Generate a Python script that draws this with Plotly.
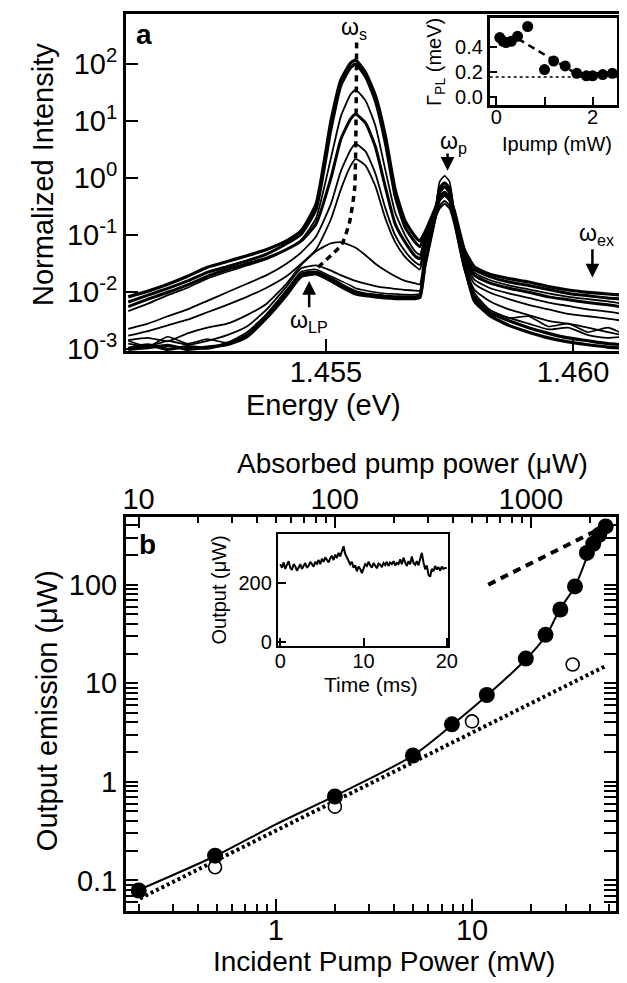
import numpy as np
import plotly.graph_objects as go

# ---------------- Panel a : spectra (log10 of normalized intensity) ----------------
energy_eV = [1.4510, 1.4514, 1.4518, 1.4522, 1.4526, 1.4530, 1.4534, 1.4538, 1.4542, 1.4545,
             1.4548, 1.4551, 1.4553, 1.4555, 1.4556, 1.4558, 1.4560, 1.4562, 1.4564, 1.4566,
             1.4568, 1.4569, 1.4570, 1.4572, 1.4573, 1.4574, 1.4575, 1.4576, 1.4578, 1.4580,
             1.4583, 1.4587, 1.4591, 1.4595, 1.4599, 1.4603, 1.4607, 1.4610]

spec1_log10 = [-2.08, -1.98, -1.86, -1.72, -1.56, -1.46, -1.36, -1.25, -1.10, -0.92, -0.45, 1.00, 1.72, 2.02, 2.07, 1.85,
               1.45, 0.75, -0.20, -0.75, -1.02, -1.10, -0.95, -0.55, -0.33, -0.25, -0.33, -0.58, -1.25, -1.55,
               -1.68, -1.76, -1.82, -1.90, -1.96, -2.00, -2.03, -2.05]
spec2_log10 = [-2.17, -2.05, -1.93, -1.80, -1.65, -1.55, -1.45, -1.33, -1.15, -0.98, -0.55, 0.85, 1.62, 1.94, 2.00, 1.78,
               1.35, 0.62, -0.32, -0.86, -1.12, -1.20, -1.00, -0.58, -0.35, -0.27, -0.35, -0.62, -1.30, -1.60,
               -1.72, -1.82, -1.88, -1.95, -2.02, -2.06, -2.10, -2.12]
spec3_log10 = [-2.33, -2.20, -2.05, -1.92, -1.76, -1.64, -1.53, -1.42, -1.25, -1.08, -0.70, 0.35, 1.08, 1.47, 1.55, 1.36,
               0.92, 0.15, -0.60, -1.00, -1.28, -1.34, -1.05, -0.60, -0.36, -0.28, -0.36, -0.64, -1.35, -1.65,
               -1.78, -1.88, -1.95, -2.02, -2.08, -2.12, -2.16, -2.20]
spec4_log10 = [-2.25, -2.12, -2.00, -1.87, -1.72, -1.60, -1.50, -1.40, -1.25, -1.10, -0.80, 0.00, 0.68, 1.04, 1.12, 0.97,
               0.55, -0.15, -0.80, -1.12, -1.36, -1.41, -1.10, -0.62, -0.38, -0.30, -0.38, -0.67, -1.40, -1.70,
               -1.83, -1.93, -2.00, -2.08, -2.13, -2.18, -2.22, -2.26]
spec5_log10 = [-2.64, -2.55, -2.42, -2.30, -2.15, -2.00, -1.85, -1.70, -1.50, -1.30, -1.02, -0.45, 0.12, 0.50, 0.60, 0.47,
               0.08, -0.52, -1.00, -1.28, -1.47, -1.52, -1.15, -0.65, -0.38, -0.30, -0.38, -0.70, -1.45, -1.78,
               -1.92, -2.02, -2.10, -2.18, -2.24, -2.30, -2.34, -2.38]
spec6_log10 = [-2.76, -2.68, -2.58, -2.48, -2.35, -2.22, -2.08, -1.92, -1.72, -1.50, -1.25, -0.72, -0.20, 0.22, 0.34, 0.22,
               -0.14, -0.70, -1.12, -1.38, -1.54, -1.60, -1.20, -0.68, -0.39, -0.30, -0.39, -0.72, -1.50, -1.85,
               -2.00, -2.12, -2.22, -2.30, -2.38, -2.42, -2.46, -2.50]
spec7_log10 = [-2.84, -2.80, -2.86, -2.72, -2.62, -2.55, -2.40, -2.20, -1.85, -1.52, -1.28, -1.14, -1.12, -1.18, -1.22, -1.35,
               -1.50, -1.62, -1.72, -1.80, -1.84, -1.86, -1.30, -0.72, -0.48, -0.40, -0.48, -0.77, -1.55, -1.95,
               -2.15, -2.30, -2.40, -2.50, -2.55, -2.62, -2.70, -2.75]
spec8_log10 = [-2.90, -2.95, -2.85, -2.92, -2.85, -2.75, -2.60, -2.30, -1.90, -1.58, -1.53, -1.62, -1.70, -1.77, -1.80, -1.85,
               -1.89, -1.92, -1.94, -1.96, -1.97, -1.97, -1.45, -0.75, -0.53, -0.45, -0.53, -0.82, -1.60, -2.05,
               -2.30, -2.45, -2.55, -2.65, -2.62, -2.75, -2.80, -2.78]
spec9_log10 = [-2.98, -2.92, -3.00, -2.95, -2.98, -2.90, -2.75, -2.40, -2.00, -1.68, -1.65, -1.76, -1.86, -1.95, -1.99, -2.03,
               -2.05, -2.07, -2.08, -2.08, -2.08, -2.06, -1.50, -0.70, -0.25, -0.15, -0.25, -0.72, -1.55, -2.10,
               -2.35, -2.50, -2.62, -2.72, -2.80, -2.85, -2.90, -2.92]
spec10_log10 = [-3.00, -2.97, -2.93, -3.00, -2.96, -2.92, -2.78, -2.45, -2.05, -1.72, -1.68, -1.80, -1.90, -1.99, -2.03, -2.06,
                -2.08, -2.10, -2.11, -2.11, -2.11, -2.09, -1.55, -0.72, -0.18, -0.08, -0.18, -0.70, -1.50, -2.15,
                -2.40, -2.58, -2.70, -2.80, -2.87, -2.92, -2.96, -2.98]
spec11_log10 = [-2.85, -2.95, -2.78, -2.90, -2.82, -2.88, -2.70, -2.38, -1.96, -1.64, -1.60, -1.72, -1.80, -1.88, -1.93, -1.97,
                -2.00, -2.02, -2.03, -2.04, -2.04, -2.02, -1.50, -0.68, -0.06, 0.04, -0.06, -0.64, -1.48, -2.00,
                -2.30, -2.45, -2.42, -2.60, -2.55, -2.70, -2.62, -2.72]

# dashed guide following the emission peak (energy, log10 intensity)
guide_energy_eV = [1.45484, 1.45532, 1.45548, 1.45558, 1.45562]
guide_log10 = [-1.56, -1.16, -0.76, -0.18, 2.38]

# inset a : linewidth vs pump
inset_a_pump_mW = [0.07, 0.14, 0.20, 0.31, 0.44, 0.65, 1.00, 1.19, 1.43, 1.67, 1.87, 2.00, 2.21, 2.41]
inset_a_gamma_meV = [0.48, 0.45, 0.44, 0.45, 0.49, 0.57, 0.22, 0.29, 0.25, 0.19, 0.17, 0.17, 0.18, 0.19]
inset_a_guide_pump = [0.45, 1.65, 2.45]
inset_a_guide_gamma = [0.47, 0.19, 0.19]
inset_a_floor_pump = [-0.14, 2.51]
inset_a_floor_gamma = [0.16, 0.16]

# ---------------- Panel b ----------------
filled_pump_mW = [0.2, 0.49, 2.0, 5.0, 7.9, 11.9, 18.8, 23.7, 28.2, 33.5, 38.5, 41.5, 44.5, 48.0]
filled_out_uW = [0.079, 0.178, 0.71, 1.85, 3.83, 7.6, 17.8, 31, 56, 96, 210, 260, 320, 390]
open_pump_mW = [0.49, 2.0, 10.0, 32.6]
open_out_uW = [0.136, 0.56, 4.1, 15.5]
fit_pump_mW = [0.2, 0.5, 1.0, 2.0, 5.0, 8.0, 12.0, 19.0, 24.0, 28.0, 33.5, 40.0, 47.0]
fit_out_uW = [0.08, 0.18, 0.37, 0.72, 1.85, 3.85, 7.6, 17.8, 31, 56, 96, 224, 380]
linear_pump_mW = [0.203, 48.2]
linear_out_uW = [0.0656, 15.0]
dashed_pump_mW = [12.1, 46.2]
dashed_out_uW = [100, 380]

time_ms = [i * 0.2 for i in range(101)]
output_trace_uW = [262, 250, 268, 246, 260, 272, 250, 243, 262, 255, 240,
                   252, 262, 246, 258, 266, 250, 257, 270, 262, 254,
                   270, 263, 276, 262, 280, 270, 285, 274, 268, 282,
                   290, 276, 294, 283, 300, 288, 305, 322, 296, 284,
                   276, 262, 270, 250, 258, 238, 254, 246, 232, 250,
                   262, 256, 270, 258, 250, 266, 259, 248, 264, 260,
                   252, 266, 259, 270, 256, 268, 262, 272, 258, 266,
                   262, 278, 262, 284, 268, 256, 272, 262, 288, 266,
                   260, 272, 258, 276, 300, 268, 245, 258, 226, 220,
                   246, 238, 256, 244, 252, 240, 254, 246, 250, 248]

# tick labels
a_y_tickvals = [1e-3, 1e-2, 1e-1, 1e0, 1e1, 1e2]
a_y_ticktext = ["10<sup>-3</sup>", "10<sup>-2</sup>", "10<sup>-1</sup>", "10<sup>0</sup>", "10<sup>1</sup>", "10<sup>2</sup>"]
a_x_tickvals = [1.455, 1.460]
a_x_ticktext = ["1.455", "1.460"]
b_x_tickvals = [1, 10]
b_y_tickvals = [0.1, 1, 10, 100]
b_y_ticktext = ["0.1", "1", "10", "100"]
b_top_tickvals = [10, 100, 1000]

FONT = "Liberation Sans, Arial, Helvetica, sans-serif"
W, H = 627, 983


def px(x):
    return x / W


def py(y):
    return 1 - y / H


fig = go.Figure()

spectra = [spec1_log10, spec2_log10, spec3_log10, spec4_log10, spec5_log10, spec6_log10,
           spec7_log10, spec8_log10, spec9_log10, spec10_log10, spec11_log10]
widths = [3.2, 3.0, 1.8, 3.0, 1.8, 1.8, 1.8, 1.8, 3.2, 3.2, 1.6]
for s, w in zip(spectra, widths):
    fig.add_trace(go.Scatter(x=energy_eV, y=10 ** np.array(s), mode="lines",
                             line=dict(color="black", width=w, shape="spline", smoothing=0.5),
                             xaxis="x", yaxis="y", showlegend=False, hoverinfo="skip"))
fig.add_trace(go.Scatter(x=guide_energy_eV, y=10 ** np.array(guide_log10), mode="lines",
                         line=dict(color="black", width=3.5, dash="6px,5px", shape="spline", smoothing=0.5),
                         xaxis="x", yaxis="y", showlegend=False))

# inset a
fig.add_trace(go.Scatter(x=inset_a_floor_pump, y=inset_a_floor_gamma, mode="lines",
                         line=dict(color="black", width=1.5, dash="3px,3px"), xaxis="x2", yaxis="y2",
                         showlegend=False))
fig.add_trace(go.Scatter(x=inset_a_guide_pump, y=inset_a_guide_gamma, mode="lines",
                         line=dict(color="black", width=2.5, dash="7px,5px"), xaxis="x2", yaxis="y2",
                         showlegend=False))
fig.add_trace(go.Scatter(x=inset_a_pump_mW, y=inset_a_gamma_meV, mode="markers",
                         marker=dict(color="black", size=11), xaxis="x2", yaxis="y2", showlegend=False))

# panel b
fig.add_trace(go.Scatter(x=linear_pump_mW, y=linear_out_uW, mode="lines",
                         line=dict(color="black", width=4, dash="3px,3px"), xaxis="x3", yaxis="y3",
                         showlegend=False))
fig.add_trace(go.Scatter(x=dashed_pump_mW, y=dashed_out_uW, mode="lines",
                         line=dict(color="black", width=4, dash="8px,6px"), xaxis="x3", yaxis="y3",
                         showlegend=False))
fig.add_trace(go.Scatter(x=fit_pump_mW, y=fit_out_uW, mode="lines",
                         line=dict(color="black", width=2, shape="spline", smoothing=0.8), xaxis="x3", yaxis="y3",
                         showlegend=False))
fig.add_trace(go.Scatter(x=open_pump_mW, y=open_out_uW, mode="markers",
                         marker=dict(color="white", size=13, line=dict(color="black", width=1.6)),
                         xaxis="x3", yaxis="y3", showlegend=False))
fig.add_trace(go.Scatter(x=filled_pump_mW, y=filled_out_uW, mode="markers",
                         marker=dict(color="black", size=16), xaxis="x3", yaxis="y3", showlegend=False))
fig.add_trace(go.Scatter(x=b_top_tickvals, y=[None] * len(b_top_tickvals), mode="markers",
                         xaxis="x4", yaxis="y3", showlegend=False, hoverinfo="skip"))

# inset b
fig.add_trace(go.Scatter(x=time_ms, y=output_trace_uW, mode="lines",
                         line=dict(color="black", width=2), xaxis="x5", yaxis="y5", showlegend=False))

axis_common = dict(showline=True, linecolor="black", linewidth=2.5, showgrid=False, zeroline=False,
                   ticks="inside", tickcolor="black", tickwidth=2, tickfont=dict(family=FONT, size=29, color="black"))


def minor_vals(lo_exp, hi_exp):
    vals = []
    for e in range(lo_exp, hi_exp + 1):
        for m in range(2, 10):
            vals.append(m * 10 ** e)
    return vals


fig.update_layout(
    width=W, height=H, margin=dict(l=0, r=0, t=0, b=0),
    paper_bgcolor="white", plot_bgcolor="white",
    font=dict(family=FONT, color="black"),
    xaxis=dict(axis_common, domain=[px(117), px(624)], anchor="y", range=[1.45095, 1.46101],
               tickvals=a_x_tickvals, ticktext=a_x_ticktext, ticklen=12, mirror=True, ticklabelstandoff=-7),
    yaxis=dict(axis_common, domain=[py(348), py(6)], anchor="x", type="log", range=[-3.03, 2.88],
               tickvals=a_y_tickvals, ticktext=a_y_ticktext, ticklen=12, mirror=True),
    xaxis2=dict(axis_common, domain=[px(488), px(618)], anchor="y2", range=[-0.14, 2.51],
                tickvals=[0, 1, 2], ticktext=["0", "", "2"], ticklen=8, mirror=True, ticklabelstandoff=-7,
                tickfont=dict(family=FONT, size=20, color="black")),
    yaxis2=dict(axis_common, domain=[py(98), py(10)], anchor="x2", range=[-0.064, 0.64],
                tickvals=[0, 0.2, 0.4], ticktext=["0.0", "0.2", "0.4"], ticklen=8, mirror=True,
                tickfont=dict(family=FONT, size=20, color="black")),
    xaxis3=dict(axis_common, domain=[px(117), px(617)], anchor="y3", type="log", range=[-0.765, 1.735],
                tickvals=b_x_tickvals, ticktext=["1", "10"], ticklen=12, mirror=True, ticklabelstandoff=-9,
                minor=dict(tickvals=minor_vals(-1, 1), ticks="inside", ticklen=7, tickcolor="black", tickwidth=2)),
    xaxis4=dict(axis_common, overlaying="x3", anchor="y3", side="top", type="log", range=[0.935, 3.435],
                tickvals=b_top_tickvals, ticktext=["10", "100", "1000"], ticklen=12, ticklabelstandoff=-7,
                minor=dict(tickvals=minor_vals(1, 3), ticks="inside", ticklen=7, tickcolor="black", tickwidth=2)),
    yaxis3=dict(axis_common, domain=[py(916), py(516)], anchor="x3", type="log", range=[-1.31, 2.69],
                tickvals=b_y_tickvals, ticktext=b_y_ticktext, ticklen=12, mirror="allticks",
                minor=dict(tickvals=minor_vals(-2, 2), ticks="inside", ticklen=7, tickcolor="black", tickwidth=2)),
    xaxis5=dict(axis_common, domain=[px(272), px(446)], anchor="y5", range=[-0.3, 20.2],
                tickvals=[0, 10, 20], ticklen=8, mirror=True, linewidth=2, ticklabelstandoff=-4,
                tickfont=dict(family=FONT, size=20, color="black")),
    yaxis5=dict(axis_common, domain=[py(647), py(534)], anchor="x5", range=[-12, 362],
                tickvals=[0, 200], ticklen=8, mirror=True, linewidth=2,
                tickfont=dict(family=FONT, size=20, color="black")),
)

ann = []


def text(x, y, s, size, angle=0, bold=False, xref="paper", yref="paper"):
    if bold:
        s = "<b>" + s + "</b>"
    ann.append(dict(x=x, y=y, xref=xref, yref=yref, text=s, showarrow=False, textangle=angle,
                    font=dict(family=FONT, size=size, color="black"), xanchor="center", yanchor="middle"))


def arrow(x, y_head, y_tail):
    ann.append(dict(x=x, y=y_head, ax=x, ay=y_tail, xref="x", yref="y", axref="x", ayref="y",
                    text="", showarrow=True, arrowhead=2, arrowsize=1.1, arrowwidth=2.5, arrowcolor="black"))


# panel a labels
text(px(32), py(169), "Normalized Intensity", 29, angle=-90)
text(px(319), py(403), "Energy (eV)", 29)
text(px(136), py(27), "a", 28, bold=True)
text(1.45557, 2.62, "ω<sub>s</sub>", 23, xref="x", yref="y")
text(1.45758, 0.62, "ω<sub>p</sub>", 23, xref="x", yref="y")
text(1.46047, -0.99, "ω<sub>ex</sub>", 23, xref="x", yref="y")
text(1.45465, -2.52, "ω<sub>LP</sub>", 23, xref="x", yref="y")
arrow(1.45746, 0.13, 0.46)
arrow(1.46039, -1.74, -1.22)
arrow(1.45466, -1.80, -2.29)

# inset a labels
text(px(432), py(55), "Γ<sub>PL</sub> (meV)", 20, angle=-90)
text(px(557), py(138), "Ipump (mW)", 20)

# panel b labels
text(px(37), py(713), "Output emission (μW)", 29, angle=-90)
text(px(380), py(967), "Incident Pump Power (mW)", 28)
text(px(409), py(462), "Absorbed pump power (μW)", 28)
text(px(139), py(544), "b", 28, bold=True)

# inset b labels
text(px(212), py(590), "Output (μW)", 20, angle=-90)
text(px(367), py(686), "Time (ms)", 21)

fig.update_layout(annotations=ann)
fig.write_html("out.html")
